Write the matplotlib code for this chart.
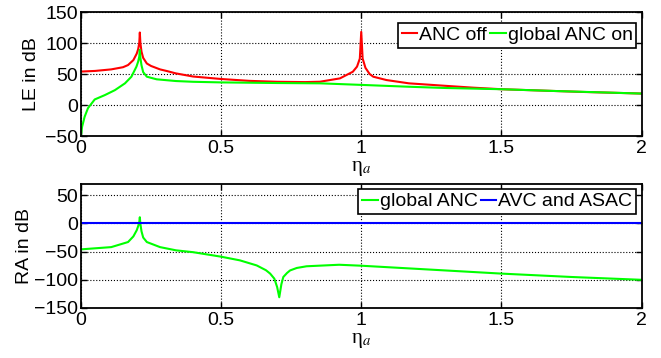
# -*- coding: utf-8 -*-
import matplotlib
matplotlib.use("Agg")
from matplotlib import pyplot as plt

plt.rcParams["font.family"] = ["Liberation Sans", "DejaVu Sans"]
plt.rcParams["font.size"] = 14
plt.rcParams["mathtext.fontset"] = "stix"

# ---- top panel: LE in dB ----
eta_off = [0, 0.05, 0.108, 0.15, 0.168, 0.187, 0.199, 0.204, 0.208, 0.21, 0.212,
           0.216, 0.222, 0.235, 0.25, 0.282, 0.305, 0.339, 0.4, 0.5, 0.6, 0.7,
           0.8, 0.853, 0.924, 0.97, 0.985, 0.995, 1.0, 1.005, 1.015, 1.03,
           1.043, 1.09, 1.17, 1.3, 1.4, 1.5, 1.6, 1.7, 1.8, 1.9, 2.0]
le_off = [54, 55, 57.5, 61, 64.5, 72.5, 83, 90, 100, 117, 100,
          86, 76, 67, 63, 57.5, 55, 51, 46, 42, 39, 37.5,
          37, 37.6, 43, 53.7, 62, 75, 118, 75, 60, 50,
          45.7, 40.3, 35, 31, 28, 25.5, 24, 22.5, 21, 19.8, 18.5]

eta_on = [0, 0.004, 0.013, 0.025, 0.049, 0.085, 0.121, 0.157, 0.18, 0.198, 0.204,
          0.208, 0.21, 0.212, 0.216, 0.222, 0.235, 0.27, 0.339, 0.4, 0.5, 0.7,
          0.853, 1.0, 1.17, 1.3, 1.5, 1.7, 1.85, 2.0]
le_on = [-50, -35, -19, -5, 9, 16, 24, 35, 45.7, 62, 70,
         78, 89, 76, 64, 53, 45.7, 41.5, 38.7, 37.5, 36.5, 35.5,
         35, 32.5, 29.5, 27.5, 25.5, 22.5, 20.5, 18.5]

# ---- bottom panel: RA in dB ----
eta_ra = [0, 0.108, 0.168, 0.187, 0.199, 0.204, 0.208, 0.21, 0.212, 0.216, 0.222,
          0.235, 0.282, 0.339, 0.4, 0.5, 0.567, 0.627, 0.66, 0.675, 0.69, 0.70,
          0.7075, 0.715, 0.722, 0.735, 0.746, 0.77, 0.805, 0.921, 1.0, 1.25,
          1.5, 1.75, 2.0]
ra_global = [-46, -42, -33, -23, -12, -5, 2, 11, -1, -14, -25,
             -33, -42, -47.7, -51, -59, -65.5, -74.5, -83, -89, -98, -113,
             -131, -108, -95, -88, -83.4, -79, -76, -73.3, -75, -82,
             -89, -95, -100]
eta_avc = [0, 2]
ra_avc = [0, 0]

xticks = [0, 0.5, 1, 1.5, 2]
xticklabels = ["0", "0.5", "1", "1.5", "2"]

fig = plt.figure(figsize=(6.61, 3.58), dpi=100)
ax1 = fig.add_axes([0.1225, 0.620, 0.848, 0.3464])
ax2 = fig.add_axes([0.1225, 0.1397, 0.848, 0.3464])


def style(ax):
    ax.set_xlim(0, 2)
    ax.set_xticks(xticks)
    ax.set_xticklabels(xticklabels)
    ax.grid(True, color="k", linestyle=":", linewidth=0.8)
    ax.tick_params(direction="in", length=4, width=1, top=True, right=True,
                   pad=3)
    ax.tick_params(axis="y", pad=2)
    for s in ax.spines.values():
        s.set_linewidth(1.3)
    ax.set_xlabel("η$_a$", family="Liberation Serif", fontsize=15, labelpad=1)


ax1.plot(eta_off, le_off, color="#FF0000", lw=1.5)
ax1.plot(eta_on, le_on, color="#00FF00", lw=1.5)
ax1.set_ylim(-50, 150)
ax1.set_yticks([-50, 0, 50, 100, 150])
style(ax1)
ax1.set_ylabel("LE in dB")
ax1.yaxis.set_label_coords(-0.073, 0.5)
leg1 = ax1.legend(["ANC off", "global ANC on"], ncol=2, loc="upper right",
                  bbox_to_anchor=(0.991, 0.914), borderaxespad=0,
                  handlelength=0.8, handletextpad=0.1, columnspacing=0.15,
                  borderpad=0.2, fancybox=False, framealpha=1, edgecolor="k")
leg1.get_frame().set_linewidth(1.2)

ax2.plot(eta_ra, ra_global, color="#00FF00", lw=1.5)
ax2.plot(eta_avc, ra_avc, color="#0000FF", lw=1.5)
ax2.set_ylim(-150, 70)
ax2.set_yticks([-150, -100, -50, 0, 50])
style(ax2)
ax2.set_ylabel("RA in dB")
ax2.yaxis.set_label_coords(-0.0856, 0.5)
leg2 = ax2.legend(["global ANC", "AVC and ASAC"], ncol=2, loc="upper right",
                  bbox_to_anchor=(0.990, 0.96), borderaxespad=0,
                  handlelength=0.8, handletextpad=0.1, columnspacing=0.15,
                  borderpad=0.2, fancybox=False, framealpha=1, edgecolor="k")
leg2.get_frame().set_linewidth(1.2)

fig.savefig("out.png", dpi=100)
